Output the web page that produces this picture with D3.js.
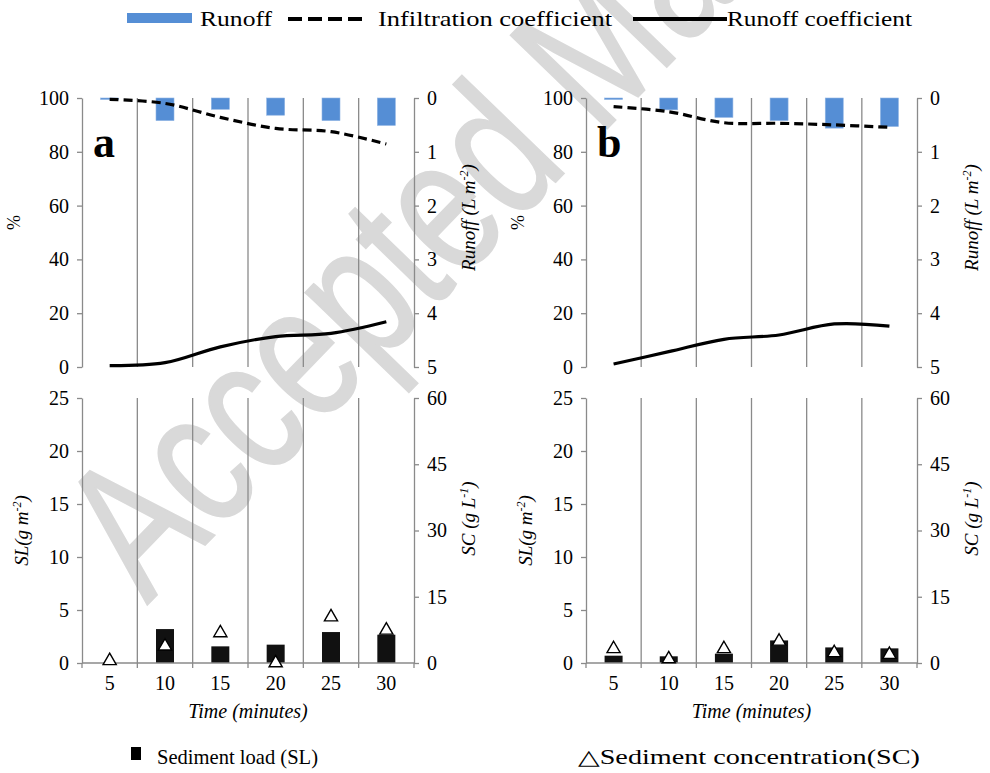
<!DOCTYPE html>
<html lang="en">
<head>
<meta charset="UTF-8">
<title>Runoff and sediment</title>
<style>
  body { margin: 0; background: #fff; }
  svg { display: block; font-family: "Liberation Serif", "DejaVu Serif", serif; }
  .axis path, .axis line { stroke: #8a8a8a; stroke-width: 1.3; }
  .axis text { font-size: 20px; fill: #000; font-family: "Liberation Serif", serif; }
</style>
</head>
<body>
<svg id="chart" width="990" height="773"></svg>
<script src="https://d3js.org/d3.v7.min.js"></script>
<script>
// minutes
const times = [5, 10, 15, 20, 25, 30];

// panel a
const runoffA = [0.01, 0.42, 0.21, 0.32, 0.42, 0.51];
const infiltA = [99.5, 98, 92.8, 88.7, 87.5, 82.9];
const runCoefA = [0.5, 1.6, 7.5, 11.3, 12.5, 16.8];
const sedLoadA = [0, 3.2, 1.57, 1.73, 2.92, 2.67];
const sedConcA = [0.5, 3.8, 6.8, 0, 10.4, 7.4];

// panel b
const runoffB = [0.02, 0.22, 0.36, 0.42, 0.56, 0.53];
const infiltB = [96.8, 94.9, 90.8, 90.6, 90, 89.1];
const runCoefB = [1.1, 5.7, 10.3, 11.9, 16, 15.2];
const sedLoadB = [0.69, 0.63, 0.88, 2.13, 1.47, 1.38];
const sedConcB = [3.2, 0.9, 3.2, 4.9, 2.3, 1.9];

const pctTicks = [0, 20, 40, 60, 80, 100];
const runoffTicks = [0, 1, 2, 3, 4, 5];
const slTicks = [0, 5, 10, 15, 20, 25];
const scTicks = [0, 15, 30, 45, 60];

const svg = d3.select("#chart");
const blue = "#558ed5";
const serif = "Liberation Serif, DejaVu Serif, serif";

// watermark sits behind everything
svg.append("text")
  .attr("transform", "translate(147,605) rotate(-46) scale(0.75,1)")
  .attr("font-family", "Liberation Sans, Arial, sans-serif")
  .attr("font-size", 195)
  .attr("fill", "#d9d9d9").attr("stroke", "#d9d9d9").attr("stroke-width", 2)
  .text("Accepted Manuscript");

const panels = [
  { label: "a", x0: 82, x1: 414, runoff: runoffA, infilt: infiltA, rc: runCoefA, sl: sedLoadA, sc: sedConcA },
  { label: "b", x0: 586, x1: 917, runoff: runoffB, infilt: infiltB, rc: runCoefB, sl: sedLoadB, sc: sedConcB }
];
const topY = [98, 367], botY = [398, 663];
const intFmt = d3.format("d");

function styleAxis(g) {
  g.attr("font-family", serif).attr("font-size", 20);
}

panels.forEach(p => {
  const x = d3.scaleBand().domain(times).range([p.x0, p.x1]).paddingInner(0).paddingOuter(0);
  const cx = t => x(t) + x.bandwidth() / 2;
  const bounds = times.slice(1).map(t => x(t));

  // ---- top panel ----
  const yPct = d3.scaleLinear().domain([0, 100]).range([topY[1], topY[0]]);
  const yRun = d3.scaleLinear().domain([0, 5]).range([topY[0], topY[1]]);
  const top = svg.append("g");

  top.selectAll("line.grid").data(bounds).join("line")
    .attr("x1", d => d).attr("x2", d => d)
    .attr("y1", topY[0]).attr("y2", topY[1])
    .attr("stroke", "#8a8a8a").attr("stroke-width", 1.3);

  top.selectAll("rect.run").data(times).join("rect")
    .attr("x", t => cx(t) - 9).attr("width", 18)
    .attr("y", yRun(0))
    .attr("height", (t, i) => Math.max(1.5, yRun(p.runoff[i]) - yRun(0)))
    .attr("fill", blue).attr("stroke", "#8fb4e3").attr("stroke-width", 0.6);

  const line = d3.line().x((d, i) => cx(times[i])).y(d => yPct(d)).curve(d3.curveCatmullRom.alpha(0.5));
  top.append("path").attr("d", line(p.infilt))
    .attr("fill", "none").attr("stroke", "#000").attr("stroke-width", 3.2)
    .attr("stroke-dasharray", "9,5");
  top.append("path").attr("d", line(p.rc))
    .attr("fill", "none").attr("stroke", "#000").attr("stroke-width", 3.2);

  top.append("g").attr("class", "axis").attr("transform", `translate(${p.x0},0)`)
    .call(d3.axisLeft(yPct).tickValues(pctTicks).tickFormat(intFmt).tickSize(5).tickSizeOuter(0).tickPadding(8))
    .call(styleAxis);
  top.append("g").attr("class", "axis").attr("transform", `translate(${p.x1},0)`)
    .call(d3.axisRight(yRun).tickValues(runoffTicks).tickFormat(intFmt).tickSize(5).tickSizeOuter(0).tickPadding(8))
    .call(styleAxis);

  top.append("text").attr("transform", `translate(${p.x0 - 62},${(topY[0] + topY[1]) / 2 - 10}) rotate(-90)`)
    .attr("text-anchor", "middle").attr("font-size", 18).text("%");
  const rt = top.append("text")
    .attr("transform", `translate(${p.x1 + 61},${(topY[0] + topY[1]) / 2 - 15}) rotate(-90)`)
    .attr("text-anchor", "middle").attr("font-size", 19).attr("font-style", "italic");
  rt.append("tspan").text("Runoff (L m");
  rt.append("tspan").attr("dy", -7).attr("font-size", 12).text("-2");
  rt.append("tspan").attr("dy", 7).text(")");

  top.append("text").attr("x", p.x0 + 11).attr("y", 157)
    .attr("font-size", 44).attr("font-weight", "bold").text(p.label);

  // ---- bottom panel ----
  const ySL = d3.scaleLinear().domain([0, 25]).range([botY[1], botY[0]]);
  const ySC = d3.scaleLinear().domain([0, 60]).range([botY[1], botY[0]]);
  const bot = svg.append("g");

  bot.selectAll("line.grid").data(bounds).join("line")
    .attr("x1", d => d).attr("x2", d => d)
    .attr("y1", botY[0]).attr("y2", botY[1])
    .attr("stroke", "#8a8a8a").attr("stroke-width", 1.3);

  bot.selectAll("rect.sl").data(times).join("rect")
    .attr("x", t => cx(t) - 9).attr("width", 18)
    .attr("y", (t, i) => ySL(p.sl[i]))
    .attr("height", (t, i) => ySL(0) - ySL(p.sl[i]))
    .attr("fill", "#111");

  const xAx = d3.axisBottom(x).tickSize(0).tickPadding(13);
  const gx = bot.append("g").attr("class", "axis").attr("transform", `translate(0,${botY[1]})`)
    .call(xAx).call(styleAxis);
  gx.select(".domain").remove();
  bot.append("line").attr("x1", p.x0).attr("x2", p.x1).attr("y1", botY[1]).attr("y2", botY[1])
    .attr("stroke", "#8a8a8a").attr("stroke-width", 1.3);
  bot.selectAll("line.xt").data([p.x0, ...bounds, p.x1]).join("line")
    .attr("x1", d => d).attr("x2", d => d)
    .attr("y1", botY[1]).attr("y2", botY[1] + 5)
    .attr("stroke", "#8a8a8a").attr("stroke-width", 1.3);

  bot.selectAll("path.sc").data(times).join("path")
    .attr("transform", (t, i) => `translate(${cx(t)},${ySC(p.sc[i])})`)
    .attr("d", d3.symbol(d3.symbolTriangle, 75))
    .attr("fill", "#fff").attr("stroke", "#000").attr("stroke-width", 1.4);

  bot.append("g").attr("class", "axis").attr("transform", `translate(${p.x0},0)`)
    .call(d3.axisLeft(ySL).tickValues(slTicks).tickFormat(intFmt).tickSize(5).tickSizeOuter(0).tickPadding(8))
    .call(styleAxis);
  bot.append("g").attr("class", "axis").attr("transform", `translate(${p.x1},0)`)
    .call(d3.axisRight(ySC).tickValues(scTicks).tickFormat(intFmt).tickSize(5).tickSizeOuter(0).tickPadding(8))
    .call(styleAxis);

  const lt = bot.append("text")
    .attr("transform", `translate(${p.x0 - 54},${(botY[0] + botY[1]) / 2}) rotate(-90)`)
    .attr("text-anchor", "middle").attr("font-size", 19).attr("font-style", "italic");
  lt.append("tspan").text("SL(g  m");
  lt.append("tspan").attr("dy", -7).attr("font-size", 12).text("-2");
  lt.append("tspan").attr("dy", 7).text(")");

  const rb = bot.append("text")
    .attr("transform", `translate(${p.x1 + 61},${(botY[0] + botY[1]) / 2 - 12}) rotate(-90)`)
    .attr("text-anchor", "middle").attr("font-size", 19).attr("font-style", "italic");
  rb.append("tspan").text("SC (g  L");
  rb.append("tspan").attr("dy", -7).attr("font-size", 12).text("-1");
  rb.append("tspan").attr("dy", 7).text(")");

  bot.append("text").attr("x", (p.x0 + p.x1) / 2).attr("y", 718)
    .attr("text-anchor", "middle").attr("font-size", 20).attr("font-style", "italic")
    .text("Time (minutes)");
});

// ---- legends ----
const lg = svg.append("g").attr("font-size", 21);
lg.append("rect").attr("x", 127).attr("y", 13).attr("width", 65).attr("height", 10).attr("fill", blue);
lg.append("text").attr("x", 200).attr("y", 26).attr("textLength", 72).attr("lengthAdjust", "spacingAndGlyphs").text("Runoff");
lg.append("line").attr("x1", 288).attr("x2", 366).attr("y1", 19).attr("y2", 19)
  .attr("stroke", "#000").attr("stroke-width", 4).attr("stroke-dasharray", "14,6");
lg.append("text").attr("x", 378).attr("y", 26).attr("textLength", 234).attr("lengthAdjust", "spacingAndGlyphs").text("Infiltration coefficient");
lg.append("line").attr("x1", 633).attr("x2", 727).attr("y1", 19).attr("y2", 19)
  .attr("stroke", "#000").attr("stroke-width", 4);
lg.append("text").attr("x", 727).attr("y", 26).attr("textLength", 185).attr("lengthAdjust", "spacingAndGlyphs").text("Runoff coefficient");

lg.append("rect").attr("x", 131).attr("y", 747).attr("width", 10).attr("height", 13).attr("fill", "#000");
lg.append("text").attr("x", 157).attr("y", 764).attr("textLength", 161).attr("lengthAdjust", "spacingAndGlyphs").text("Sediment load (SL)");
lg.append("text").attr("x", 578).attr("y", 764).attr("textLength", 342).attr("lengthAdjust", "spacingAndGlyphs").text("\u25B3Sediment concentration(SC)");
</script>
</body>
</html>
